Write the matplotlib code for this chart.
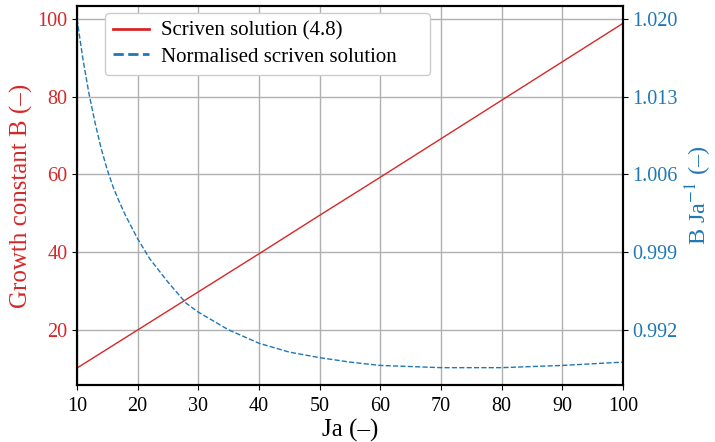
import numpy as np
import matplotlib
matplotlib.use("Agg")
import matplotlib.pyplot as plt

plt.rcParams['font.family'] = ['Liberation Serif', 'DejaVu Serif']
plt.rcParams['mathtext.fontset'] = 'stix'

# Scriven solution, growth constant B
ja_b = [10, 20, 30, 40, 50, 60, 70, 80, 90, 100]
growth_b = [10.2, 20.0, 29.8, 39.6, 49.5, 59.3, 69.2, 79.1, 89.0, 98.9]

# normalised solution B / Ja
ja_n = [10, 11, 12, 13, 14, 15, 16, 17, 18, 20, 22, 25, 28, 30, 35, 40,
        45, 50, 55, 60, 70, 80, 90, 100]
norm_b = [1.0200, 1.0163, 1.0132, 1.0106, 1.0083, 1.0064, 1.0048, 1.0035,
          1.0023, 1.0002, 0.9984, 0.9963, 0.9944, 0.9936, 0.9920, 0.9908,
          0.9900, 0.9895, 0.9891, 0.9888, 0.9886, 0.9886, 0.9888, 0.9891]

left_ticks = [20, 40, 60, 80, 100]
right_ticks = [0.992, 0.999, 1.006, 1.013, 1.020]
x_ticks = [10, 20, 30, 40, 50, 60, 70, 80, 90, 100]

red = '#d62728'
blue = '#1f77b4'
tick_fs = 14.5
label_fs = 18

fig = plt.figure(figsize=(7.15, 4.42), dpi=100)
ax = fig.add_axes([0.1077, 0.129, 0.7636, 0.8574])
ax2 = ax.twinx()

l1, = ax.plot(ja_b, growth_b, color=red, lw=1.0, label='Scriven solution (4.8)')
l2, = ax2.plot(ja_n, norm_b, color=blue, lw=1.0, ls='--', label='Normalised scriven solution')

ax.set_xlim(10, 100)
ax.set_ylim(5.84, 103.35)
ax2.set_ylim(0.98704, 1.02117)
ax.set_xticks(x_ticks)
ax.set_yticks(left_ticks)
ax2.set_yticks(right_ticks)
ax2.set_yticklabels(['%.3f' % t for t in right_ticks])

ax.grid(True, color='#b0b0b0', lw=1.0)
ax.set_axisbelow(True)

ax.set_xlabel('Ja (–)', fontsize=label_fs, labelpad=2)
ax.set_ylabel('Growth constant B (–)', fontsize=label_fs, color=red, labelpad=3)
ax2.set_ylabel('B Ja$^{-1}$ (–)', fontsize=17.5, color=blue, labelpad=4)

ax.tick_params(axis='x', labelsize=tick_fs, pad=5)
ax.tick_params(axis='y', labelsize=tick_fs, labelcolor=red, color='black')
ax2.tick_params(axis='y', labelsize=tick_fs, labelcolor=blue, color='black')
for a in (ax, ax2):
    for s in a.spines.values():
        s.set_linewidth(1.5)

leg = ax.legend(handles=[l1, l2], loc='upper left', mode='expand',
                bbox_to_anchor=(0.0513, 0.9, 0.5952, 0.0815),
                borderaxespad=0, fontsize=15, framealpha=1.0,
                handlelength=1.7, handletextpad=0.6, labelspacing=0.3)
for ln in leg.get_lines():
    ln.set_linewidth(2.0)

fig.savefig('out.png', dpi=100)
